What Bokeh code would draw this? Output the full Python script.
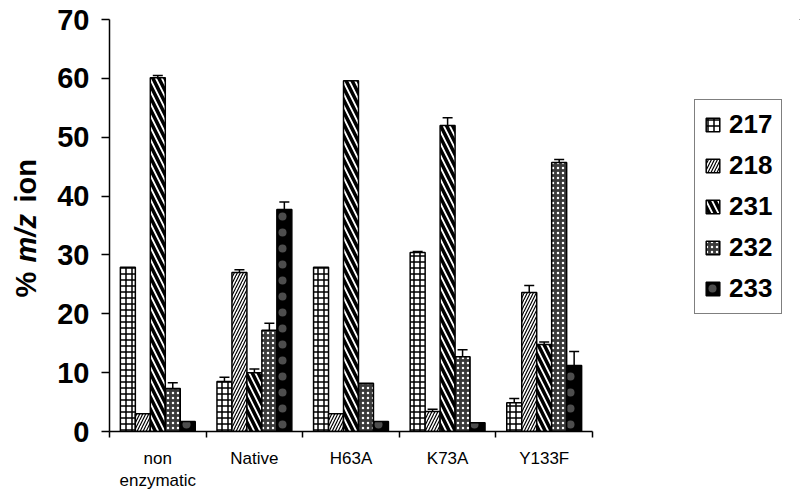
import math
from bokeh.plotting import figure
from bokeh.layouts import row
from bokeh.models import (Range1d, FixedTicker, Legend, LegendItem, Whisker,
                          TeeHead, ColumnDataSource)
from bokeh.core.properties import value
from bokeh.embed import file_html
from bokeh.resources import INLINE

categories = ["non\nenzymatic", "Native", "H63A", "K73A", "Y133F"]
series = ["217", "218", "231", "232", "233"]

v217 = [27.9, 8.5, 27.9, 30.4, 4.9]
v218 = [3.0, 27.0, 3.0, 3.4, 23.6]
v231 = [60.1, 10.0, 59.6, 52.0, 14.8]
v232 = [7.3, 17.2, 8.2, 12.7, 45.7]
v233 = [1.7, 37.7, 1.7, 1.5, 11.2]

e217 = [0.0, 0.7, 0.0, 0.2, 0.7]
e218 = [0.0, 0.5, 0.0, 0.4, 1.2]
e231 = [0.4, 0.6, 0.0, 1.3, 0.4]
e232 = [1.0, 1.2, 0.0, 1.2, 0.5]
e233 = [0.0, 1.3, 0.0, 0.0, 2.4]

y_ticks = [0, 10, 20, 30, 40, 50, 60, 70]
title_parts = ["%", "m/z", "ion"]

values = [v217, v218, v231, v232, v233]
errors = [e217, e218, e231, e232, e233]

FONT = "Liberation Sans"

styles = [
    dict(fill_color="white", hatch_pattern="cross", hatch_color="black", hatch_scale=6, hatch_weight=1.5),
    dict(fill_color="white", hatch_pattern="right_diagonal_line", hatch_color="black", hatch_scale=6, hatch_weight=1.2),
    dict(fill_color="white", hatch_pattern="left_diagonal_line", hatch_color="black", hatch_scale=12, hatch_weight=3.5),
    dict(fill_color="#3a3a3a", hatch_pattern="dot", hatch_color="white", hatch_scale=5, hatch_weight=1),
    dict(fill_color="black", hatch_pattern="dot", hatch_color="white", hatch_scale=16, hatch_weight=1, hatch_alpha=0.3),
]

H = 494
TW = 50          # title strip width
PW = 550         # main chart width
LW = 800 - TW - PW  # legend strip width
FT, FB = 19, 431  # frame top / bottom (shared by the row's plots)

# ---- narrow figure holding the rotated y-axis title ----
tfig = figure(width=TW, height=H, output_backend="svg", toolbar_location=None,
              x_range=Range1d(0, TW), y_range=Range1d(H - FB, H - FT),
              min_border_left=0, min_border_right=0,
              min_border_top=FT, min_border_bottom=H - FB)
tfig.axis.visible = False
tfig.grid.visible = False
tfig.outline_line_color = None
fs = 29
x_t = 25.5
y_t0 = H - 297
offs = [0.0, (0.889 + 0.32) * fs, (0.889 + 0.32 + 1.667 + 0.4) * fs]
tstyles = ["bold", "bold italic", "bold"]
for txt, st, off in zip(title_parts, tstyles, offs):
    tfig.text(x=[x_t], y=[y_t0 + off], text=[txt], angle=math.pi / 2,
              text_font=value(FONT), text_font_size=f"{fs}px",
              text_font_style=st, text_align="left", text_baseline="middle",
              text_color="black")

# ---- main chart ----
p = figure(width=PW, height=H, output_backend="svg", toolbar_location=None,
           x_range=Range1d(0, len(categories)), y_range=Range1d(0, 70),
           min_border_left=109 - TW, min_border_right=TW + PW - 592,
           min_border_top=FT, min_border_bottom=H - FB)
p.outline_line_color = None
p.grid.visible = False
p.background_fill_color = "white"

bar_w = 0.155
n = len(series)
for k, name in enumerate(series):
    xs = [i + 0.5 + (k - (n - 1) / 2) * bar_w for i in range(len(categories))]
    src = ColumnDataSource(dict(x=xs, top=values[k]))
    p.vbar(x="x", top="top", width=bar_w, bottom=0, source=src,
           line_color="black", line_width=1.5, **styles[k])

for k, name in enumerate(series):
    xs, up, lo = [], [], []
    for i in range(len(categories)):
        if errors[k][i] > 0:
            xs.append(i + 0.5 + (k - (n - 1) / 2) * bar_w)
            up.append(values[k][i] + errors[k][i])
            lo.append(values[k][i] - errors[k][i])
    if xs:
        es = ColumnDataSource(dict(x=xs, upper=up, lower=lo))
        w = Whisker(base="x", upper="upper", lower="lower", source=es,
                    dimension="height", line_color="black", line_width=1.5,
                    upper_head=TeeHead(size=10, line_width=1.5, line_color="black"),
                    lower_head=TeeHead(size=10, line_width=1.5, line_color="black"))
        p.add_layout(w)

# x axis
xa = p.xaxis[0]
xa.ticker = FixedTicker(ticks=[i + 0.5 for i in range(len(categories))],
                        minor_ticks=list(range(len(categories) + 1)))
xa.major_label_overrides = {i + 0.5: c for i, c in enumerate(categories)}
xa.major_tick_line_color = None
xa.major_tick_out = 0
xa.major_tick_in = 0
xa.minor_tick_line_color = "black"
xa.minor_tick_line_width = 1.5
xa.minor_tick_out = 6
xa.minor_tick_in = 0
xa.axis_line_width = 1.5
xa.axis_line_color = "black"
xa.major_label_text_font = FONT
xa.major_label_text_font_size = "17px"
xa.major_label_text_color = "black"
xa.major_label_standoff = 11

# y axis
ya = p.yaxis[0]
ya.ticker = FixedTicker(ticks=y_ticks, minor_ticks=[])
ya.major_tick_out = 8
ya.major_tick_in = 0
ya.major_tick_line_width = 1.5
ya.major_tick_line_color = "black"
ya.axis_line_width = 1.5
ya.axis_line_color = "black"
ya.major_label_text_font = FONT
ya.major_label_text_font_size = "29px"
ya.major_label_text_font_style = "bold"
ya.major_label_text_color = "black"
ya.major_label_standoff = 12

# ---- legend strip ----
lfig = figure(width=LW, height=H, output_backend="svg", toolbar_location=None,
              x_range=Range1d(0, 1), y_range=Range1d(0, 1),
              min_border_left=0, min_border_right=0,
              min_border_top=FT, min_border_bottom=H - FB)
lfig.axis.visible = False
lfig.grid.visible = False
lfig.outline_line_color = None
items = []
for k, name in enumerate(series):
    # legend proxies drawn outside the visible range
    r = lfig.vbar(x=[5.0], top=[5.0], width=0.1, bottom=4.0,
                  line_color="black", line_width=1.5, **styles[k])
    items.append(LegendItem(label=name, renderers=[r]))

legend = Legend(items=items, location=(694 - TW - PW, FB - 314),
                border_line_color="black",
                border_line_width=1.5, background_fill_color="white",
                background_fill_alpha=1.0,
                label_text_font=FONT, label_text_font_size="26px",
                label_text_font_style="bold", label_text_color="black",
                glyph_width=17, glyph_height=17, label_height=26,
                spacing=10, padding=9, margin=0, label_standoff=8)
lfig.add_layout(legend)

layout = row(tfig, p, lfig, spacing=0)
open("out.html", "w").write(file_html(layout, INLINE))
